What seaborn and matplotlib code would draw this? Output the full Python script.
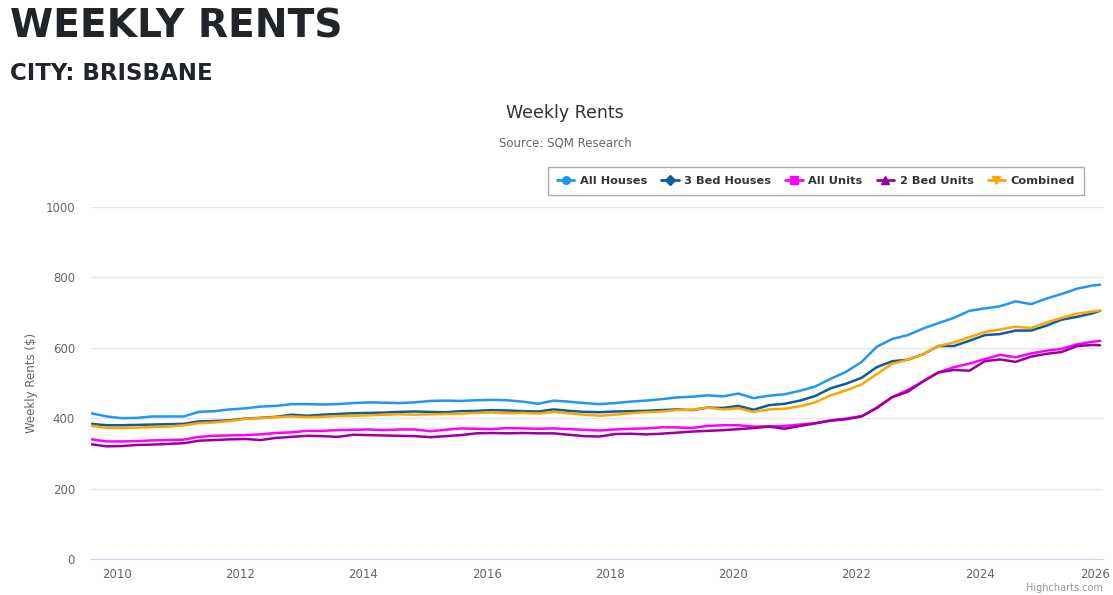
import pandas as pd
import matplotlib
matplotlib.use('Agg')
import matplotlib.pyplot as plt
import matplotlib.dates as mdates
import matplotlib.transforms as mtransforms
from matplotlib.lines import Line2D
import seaborn as sns

# Quarterly readings of the SQM weekly rents, Brisbane (last point = Dec 2025)
dates = list(pd.date_range('2009-08-01', '2025-11-01', freq='3MS')) + [pd.Timestamp('2025-12-15')]

all_houses = [414, 405, 400, 401, 405, 405, 405, 418, 420, 425, 428, 433, 435, 440, 440, 439,
              440, 443, 445, 444, 443, 445, 449, 450, 449, 451, 452, 451, 447, 441, 450, 447,
              443, 440, 443, 447, 450, 454, 459, 461, 465, 462, 470, 457, 464, 468, 478, 490,
              512, 532, 560, 603, 625, 636, 655, 670, 685, 705, 712, 718, 732, 724, 740, 753,
              768, 777, 779]
bed3_houses = [384, 380, 380, 381, 382, 383, 384, 391, 392, 394, 399, 401, 404, 410, 407, 410,
               412, 414, 415, 416, 418, 419, 418, 417, 420, 421, 423, 422, 420, 419, 425, 421,
               418, 417, 419, 420, 421, 423, 425, 423, 430, 429, 435, 424, 437, 441, 450, 463,
               485, 498, 515, 545, 562, 566, 582, 605, 605, 620, 636, 639, 649, 649, 663, 680,
               688, 698, 705]
all_units = [340, 334, 334, 335, 337, 338, 339, 347, 350, 351, 352, 354, 358, 360, 364, 364,
             366, 367, 368, 366, 368, 368, 363, 367, 371, 370, 369, 372, 371, 370, 371, 369,
             367, 365, 368, 370, 371, 374, 374, 372, 378, 380, 380, 376, 377, 378, 382, 386,
             394, 399, 406, 428, 460, 480, 505, 530, 545, 555, 568, 580, 573, 584, 592, 597,
             610, 617, 620]
bed2_units = [326, 320, 321, 324, 325, 327, 329, 336, 338, 340, 341, 338, 344, 347, 350, 349,
              347, 353, 352, 351, 350, 349, 346, 349, 352, 357, 358, 357, 358, 357, 357, 353,
              349, 348, 355, 356, 354, 356, 359, 362, 364, 366, 369, 372, 376, 370, 378, 385,
              393, 397, 405, 430, 460, 475, 505, 530, 537, 535, 562, 567, 560, 575, 583, 588,
              605, 608, 607]
combined = [379, 372, 372, 373, 375, 376, 380, 386, 388, 392, 398, 400, 403, 405, 403, 404,
            406, 407, 408, 410, 411, 410, 411, 412, 413, 415, 416, 414, 415, 413, 418, 414,
            410, 407, 410, 414, 417, 419, 423, 424, 430, 425, 428, 418, 425, 427, 434, 445,
            465, 479, 496, 525, 555, 566, 582, 605, 615, 630, 645, 652, 660, 656, 672, 685,
            697, 703, 706]

series_names = ['All Houses', '3 Bed Houses', 'All Units', '2 Bed Units', 'Combined']
series_values = [all_houses, bed3_houses, all_units, bed2_units, combined]
colors = ['#2196f3', '#0d5c9e', '#ff00ff', '#9c009c', '#ffa500']
markers = ['o', 'D', 's', '^', 'v']

frames = []
for name, vals in zip(series_names, series_values):
    frames.append(pd.DataFrame({'Date': dates, 'Rent': vals, 'Series': name}))
df = pd.concat(frames, ignore_index=True)

sns.set_style('white')
plt.rcParams['font.family'] = ['DejaVu Sans']

fig = plt.figure(figsize=(11.13, 5.95), dpi=100)
ax = fig.add_axes([91 / 1113, 1 - 559 / 595, (1103 - 91) / 1113, (559 - 207) / 595])

sns.lineplot(data=df, x='Date', y='Rent', hue='Series', hue_order=series_names,
             palette=dict(zip(series_names, colors)), linewidth=1.8, legend=False, ax=ax)

ax.set_ylim(0, 1000)
ax.set_yticks(range(0, 1001, 200))
ax.set_xlim(pd.Timestamp('2009-07-31'), pd.Timestamp('2026-01-01'))
ax.xaxis.set_major_locator(mdates.YearLocator(2))
ax.xaxis.set_major_formatter(mdates.DateFormatter('%Y'))
ax.grid(axis='y', color='#e6e6e6', linewidth=1)
ax.set_axisbelow(True)
for s in ['top', 'right', 'left']:
    ax.spines[s].set_visible(False)
ax.spines['bottom'].set_color('#ccd6eb')
ax.tick_params(axis='x', colors='#ccd6eb', length=7, width=1, direction='out',
               labelcolor='#666666', labelsize=8.5, pad=-0.5)
ax.tick_params(axis='y', length=0, labelcolor='#666666', labelsize=8.5, pad=11.5)
ax.set_xlabel('')
ax.set_ylabel('Weekly Rents ($)', color='#666666', fontsize=8.5, labelpad=5)

# keep the last year label inside the figure, like Highcharts does
fig.canvas.draw()
last = ax.get_xticklabels()[-1]
last.set_transform(last.get_transform() + mtransforms.ScaledTranslation(-8 / 100, 0, fig.dpi_scale_trans))

# Page headings and chart titles
fig.text(10 / 1113, 1 - 27 / 595, 'WEEKLY RENTS', fontsize=28.2, fontweight='black',
         color='#212529', va='center', ha='left')
fig.text(10 / 1113, 1 - 73 / 595, 'CITY: BRISBANE', fontsize=16.5, fontweight='black',
         color='#212529', va='center', ha='left')
fig.text(565 / 1113, 1 - 113 / 595, 'Weekly Rents', fontsize=12.5, color='#333333',
         va='center', ha='center')
fig.text(565 / 1113, 1 - 143 / 595, 'Source: SQM Research', fontsize=8.5, color='#666666',
         va='center', ha='center')
fig.text(1103 / 1113, 1 - 588 / 595, 'Highcharts.com', fontsize=7, color='#999999',
         va='center', ha='right')

handles = [Line2D([0], [0], color=c, marker=m, markersize=5.5, linewidth=2)
           for c, m in zip(colors, markers)]
leg = ax.legend(handles, series_names, ncol=5, loc='center',
                bbox_to_anchor=(816 / 1113, 1 - 181 / 595), bbox_transform=fig.transFigure,
                frameon=True, fancybox=False, handlelength=1.5, handletextpad=0.5,
                columnspacing=1.25, borderpad=0.8,
                prop={'size': 8.2, 'weight': 'bold'})
leg.get_frame().set_edgecolor('#999999')
leg.get_frame().set_linewidth(1)
for t in leg.get_texts():
    t.set_color('#333333')

fig.savefig('out.png', dpi=100)
